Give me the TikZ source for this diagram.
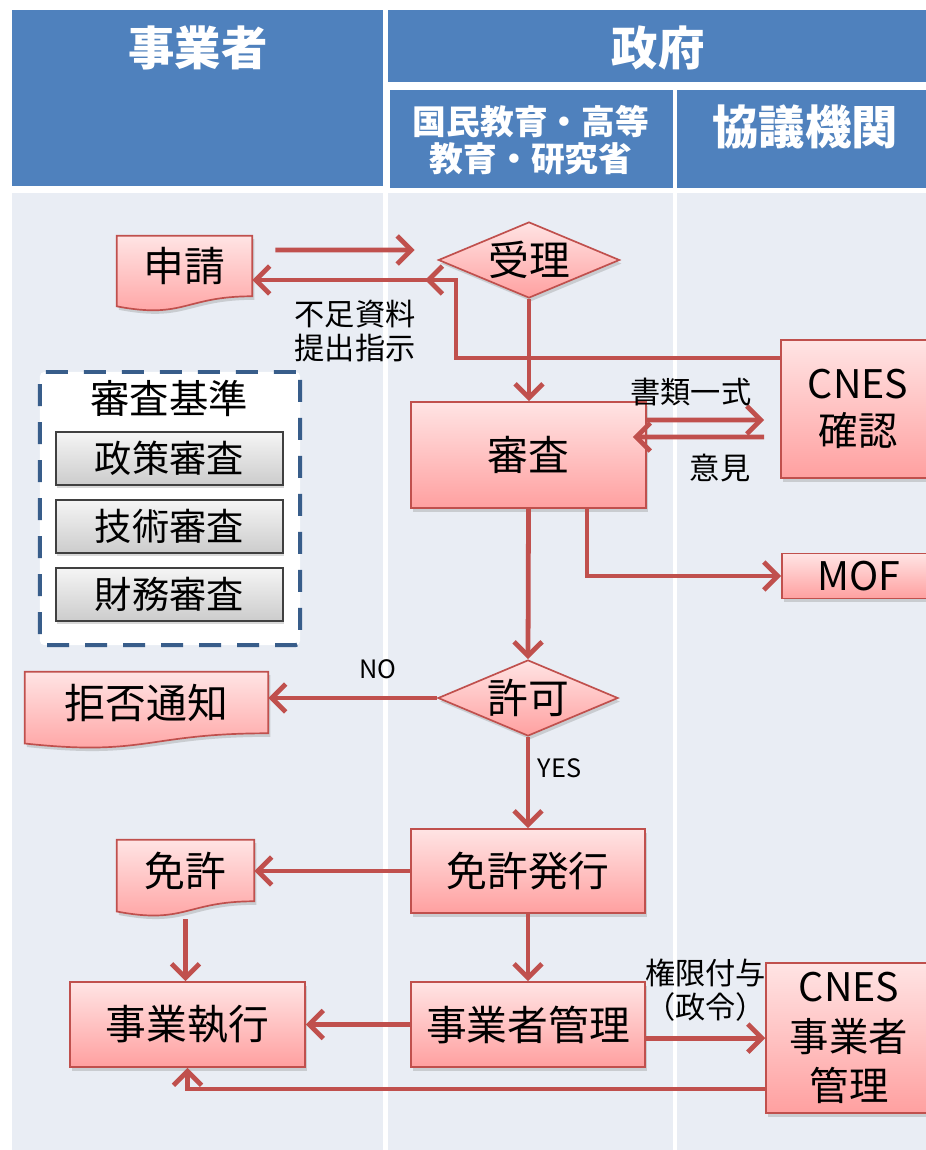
\documentclass[tikz,border=0pt]{standalone}
\usepackage{fontspec}
\setmainfont{Noto Sans CJK JP}
\usetikzlibrary{shapes.geometric,arrows.meta,shadows,positioning}

\definecolor{hdrblue}{RGB}{79,129,189}
\definecolor{lanegray}{RGB}{233,237,244}
\definecolor{linered}{RGB}{192,80,77}
\definecolor{boxtop}{RGB}{255,228,228}
\definecolor{boxbottom}{RGB}{255,160,160}
\definecolor{dashblue}{RGB}{56,93,138}

\pgfdeclarelayer{lanes}
\pgfdeclarelayer{docs}
\pgfsetlayers{lanes,docs,main}

% document shape with a wavy bottom, drawn round a node
\newcommand{\docpath}[2]{%
  \path[docshape] (#1.north west) -- (#1.north east) -- (#1.south east)
    .. controls (#1.south) and ([yshift=-0.384*#2 cm]#1.south) ..
    ([yshift=-0.167*#2 cm]#1.south west) -- cycle;}

\begin{document}
\begin{tikzpicture}[
    x=0.025cm, y=-0.025cm,
    thick,
    hdr/.style={text=white, font=\bfseries\fontsize{33}{38}\selectfont},
    subhdr/.style={text=white, align=center, font=\bfseries\fontsize{24}{26}\selectfont},
    box/.style={rectangle, draw=linered, line width=1.2pt, top color=boxtop, bottom color=boxbottom,
      drop shadow={shadow xshift=1.5pt, shadow yshift=-2.5pt, opacity=0.3},
      align=center, inner sep=2pt, font=\fontsize{29}{34}\selectfont},
    decision/.style={box, diamond, aspect=2.4, minimum width=4.5cm, minimum height=1.9cm, inner sep=0pt},
    docnode/.style={rectangle, inner sep=2pt, font=\fontsize{29}{34}\selectfont},
    docshape/.style={draw=linered, line width=1.2pt, top color=boxtop, bottom color=boxbottom,
      drop shadow={shadow xshift=1.5pt, shadow yshift=-2.5pt, opacity=0.3}},
    critframe/.style={draw=dashblue, line width=2.8pt, dash pattern=on 5.5mm off 4mm,
      fill=white, rounded corners=3pt, minimum width=6.5cm, minimum height=6.825cm},
    critbox/.style={rectangle, draw=black!75, line width=0.8pt, top color=gray!8, bottom color=gray!40,
      drop shadow={shadow xshift=1pt, shadow yshift=-2pt, opacity=0.3},
      minimum width=5.675cm, minimum height=1.325cm, font=\fontsize{26.5}{30}\selectfont},
    lbl/.style={font=\fontsize{21.5}{24}\selectfont, align=left},
    yesno/.style={font=\fontsize{18}{20}\selectfont},
    arrow/.style={draw=linered, line width=3.4pt, ->, >={Straight Barb[length=3.5mm,width=7mm]}}
]
\useasboundingbox (0,0) rectangle (926,1150);

% Lanes
\begin{pgfonlayer}{lanes}
  \fill[white] (0,0) rectangle (926,1150);
  \fill[hdrblue] (12,10) rectangle (383,186);
  \fill[hdrblue] (388,10) rectangle (926,82);
  \fill[hdrblue] (390,90) rectangle (673,188);
  \fill[hdrblue] (677,90) rectangle (926,188);
  \fill[lanegray] (12,193) rectangle (383,1150);
  \fill[lanegray] (388,193) rectangle (673,1150);
  \fill[lanegray] (677,193) rectangle (926,1150);
\end{pgfonlayer}

% Headers
\node[hdr] (hjigyo) at (198,48) {事業者};
\node[hdr] (hseifu) at (658,48) {政府};
\node[subhdr] (hmesr) at (531,140) {国民教育・高等\\教育・研究省};
\node[hdr] (hkyogi) at (805,127) {協議機関};

% Criteria
\node[critframe] (kijun) at (170,508.5) {};
\node[font=\fontsize{28}{32}\selectfont] (kijunttl) at (169,398) {審査基準};
\node[critbox] (seisaku) at (169.5,458.5) {政策審査};
\node[critbox] (gijutsu) at (169.5,526.5) {技術審査};
\node[critbox] (zaimu) at (169.5,594.5) {財務審査};

% Flow nodes
\node[docnode, minimum width=3.375cm, minimum height=1.5cm] (shinsei) at (184.5,266) {申請};
\node[decision, minimum width=4.53cm] (juri) at (529,260) {受理};
\node[box, minimum width=5.875cm, minimum height=2.65cm] (shinsa) at (528.5,455) {審査};
\node[box, minimum width=3.85cm, minimum height=3.45cm, font=\fontsize{28}{33}\selectfont] (cnes1) at (858,409) {CNES\\確認};
\node[box, minimum width=3.85cm, minimum height=1.125cm, font=\fontsize{28}{32}\selectfont] (mof) at (859,576) {MOF};
\node[decision] (kyoka) at (528,698) {許可};
\node[docnode, minimum width=6.075cm, minimum height=1.525cm] (kyohi) at (146.5,702.5) {拒否通知};
\node[box, minimum width=5.85cm, minimum height=2.1cm] (hakko) at (528,871) {免許発行};
\node[docnode, minimum width=3.425cm, minimum height=1.525cm] (menkyo) at (185.5,870.5) {免許};
\node[box, minimum width=5.85cm, minimum height=2.125cm] (kanri) at (528,1024.5) {事業者管理};
\node[box, minimum width=5.875cm, minimum height=2.125cm] (shikko) at (187.5,1024.5) {事業執行};
\node[box, minimum width=4.15cm, minimum height=3.75cm, font=\fontsize{28}{35}\selectfont] (cnes2) at (849,1038) {CNES\\事業者\\管理};

\begin{pgfonlayer}{docs}
  \docpath{shinsei}{1.5}
  \docpath{kyohi}{1.525}
  \docpath{menkyo}{1.525}
\end{pgfonlayer}

% Arrows
\coordinate (fb) at (456,280);
\coordinate (fbmid) at (425,280);
\draw[arrow, shorten <=0.575cm, shorten >=0.575cm] ([yshift=0.4cm]shinsei.east) -- ([yshift=0.25cm]juri.west);
\draw[arrow] ([yshift=1.275cm]cnes1.west) -| (fb) -- (fb -| shinsei.east);
\draw[arrow] (fb) -- (fbmid);
\node[lbl] (fusoku) at (355,331) {不足資料\\提出指示};
\draw[arrow] (juri.south) -- (juri.south |- shinsa.north);
\draw[arrow, shorten >=0.4cm] ([yshift=0.875cm]shinsa.east) -- ([yshift=-0.275cm]cnes1.west)
  node[lbl, pos=0.33, above=5pt] {書類一式};
\draw[arrow, shorten <=0.4cm, shorten >=-0.35cm] ([yshift=-0.7cm]cnes1.west) -- ([yshift=0.45cm]shinsa.east)
  node[lbl, pos=0.45, below=7pt] {意見};
\draw[arrow] ([xshift=1.46cm]shinsa.south) |- (mof.west);
\draw[arrow] (shinsa.south) -- (kyoka.north);
\draw[arrow] (kyoka.west) -- (kyoka.west -| kyohi.east) node[yesno, pos=0.35, above=0.3cm] {NO};
\draw[arrow] (kyoka.south) -- (hakko.north) node[yesno, pos=0.34, right=2pt] {YES};
\draw[arrow] (hakko.west) -- (hakko.west -| menkyo.east);
\draw[arrow, shorten <=0.45cm] (menkyo.south) -- (menkyo.south |- shikko.north);
\draw[arrow] (hakko.south) -- (kanri.north);
\draw[arrow] (kanri.west) -- (shikko.east);
\draw[arrow] ([yshift=-0.34cm]kanri.east) -- ([yshift=-0.34cm]kanri.east -| cnes2.west)
  node[lbl, midway, above=0.25cm, align=center] {権限付与\\（政令）};
\draw[arrow] ([yshift=-1.275cm]cnes2.west) -| (shikko.south);
\end{tikzpicture}
\end{document}
